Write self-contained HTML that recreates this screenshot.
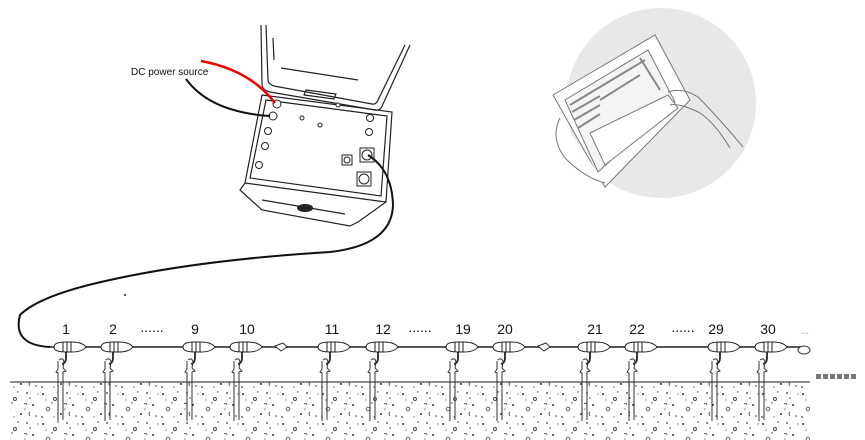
<!DOCTYPE html>
<html><head><meta charset="utf-8"><style>
html,body{margin:0;padding:0;background:#fff;}
svg{display:block;}
text{font-family:"Liberation Sans",sans-serif;}
</style></head><body>
<svg width="865" height="440" viewBox="0 0 865 440" xmlns="http://www.w3.org/2000/svg">
<defs>
<pattern id="soil" width="40" height="30" patternUnits="userSpaceOnUse">
<circle cx="3" cy="4" r="1" fill="#333"/><circle cx="15" cy="9" r="1.5" fill="none" stroke="#444" stroke-width="0.9"/>
<circle cx="27" cy="3" r="0.9" fill="#333"/><circle cx="33" cy="15" r="1" fill="#333"/>
<circle cx="8" cy="19" r="1.8" fill="none" stroke="#555" stroke-width="0.9"/><circle cx="21" cy="24" r="1" fill="#333"/>
<circle cx="36" cy="26" r="0.8" fill="#333"/><circle cx="12" cy="13" r="0.7" fill="#333"/>
<path d="M24 14 q2 -2 3 1" fill="none" stroke="#444" stroke-width="0.9"/><circle cx="2" cy="27" r="0.9" fill="#333"/>
<circle cx="30" cy="8" r="0.7" fill="#333"/><circle cx="18" cy="2" r="0.7" fill="#333"/>
<circle cx="6" cy="10" r="0.6" fill="#333"/><circle cx="25" cy="19" r="0.6" fill="#333"/><circle cx="38" cy="4" r="0.6" fill="#333"/>
<path d="M30 22 q-2 2 0 4" fill="none" stroke="#444" stroke-width="0.9"/><circle cx="14" cy="27" r="0.6" fill="#333"/>
</pattern>
<g id="node">
<path d="M-12 0 q0 -5 12 -5 h6 q10 0 14 5 q-4 5 -14 5 h-6 q-12 0 -12 -5z" fill="#fff" stroke="#222" stroke-width="1"/>
<path d="M-3 -5 v10 M1 -5 v10 M5 -5 v10" stroke="#222" stroke-width="1"/>
<path d="M0 5 v6 q0 5 -4 6" fill="none" stroke="#222" stroke-width="1.8"/>
<path d="M-7 13 q4 -3 5 2 l-1 6 l3 3 l-3 1 v48" fill="none" stroke="#333" stroke-width="1"/>
<path d="M-8 14 v8 l-2 3 l2 1 v48" fill="none" stroke="#333" stroke-width="1"/>
</g>
</defs>
<rect x="10" y="382" width="800" height="58" fill="url(#soil)"/>
<line x1="10" y1="382" x2="810" y2="382" stroke="#444" stroke-width="1.2"/>
<circle cx="661" cy="103" r="95" fill="#e8e8e8"/>
<g stroke="#777" fill="#fff" stroke-width="1">
<path d="M553 95 L655 35 L690 100 L605 187 Z"/>
<path d="M565 100 L648 50 L675 102 L598 172 Z" fill="#f4f4f4"/>
<path d="M590 133 L668 95 L678 108 L605 165 Z" fill="#fff"/>
<path d="M570 105 L645 60 M572 112 L600 96 M574 120 L600 105 M578 128 L600 114 M600 100 L640 75 M640 58 L660 90" fill="none" stroke="#888" stroke-width="2"/>
<path d="M560 118 q-10 20 5 40 q20 20 40 25" fill="#fff"/>
<path d="M668 92 q15 -5 30 5 q20 20 45 50" fill="none"/>
<path d="M670 105 q10 -2 30 8 q15 10 30 35" fill="none"/>
</g>
<g fill="none" stroke="#222" stroke-width="1.2">
<path d="M261 25 L262 84 q0 6 8 8 L375 110 q6 1 8 -6 L410 45"/>
<path d="M266 25 L268 80 q0 4 6 6 L372 104 q4 1 6 -4 L405 45"/>
<path d="M273 38 L274 60 M281 68 L358 80"/>
<path d="M306 90 l30 4 l-2 5 l-30 -4 z"/>
<path d="M262 95 L392 112 L386 202 L245 183 Z"/>
<path d="M266 100 L387 116 L381 196 L250 178 Z"/>
<path d="M245 183 L240 190 L262 210 L350 226 L358 222 L386 202"/>
<path d="M262 200 L345 214"/>
</g>
<ellipse cx="305" cy="208" rx="8" ry="4" fill="#222"/>
<g fill="#fff" stroke="#222" stroke-width="1">
<circle cx="277" cy="104" r="4"/><circle cx="273" cy="116" r="4"/><circle cx="268" cy="131" r="3.5"/>
<circle cx="265" cy="146" r="3.5"/><circle cx="259" cy="165" r="3.5"/><circle cx="370" cy="118" r="3.5"/>
<circle cx="369" cy="132" r="3.5"/><circle cx="302" cy="118" r="2"/><circle cx="320" cy="125" r="2"/><circle cx="338" cy="105" r="2"/>
<rect x="342" y="155" width="10" height="10"/><circle cx="347" cy="160" r="3"/>
<rect x="360" y="148" width="14" height="14"/><circle cx="367" cy="155" r="5"/>
<rect x="357" y="172" width="14" height="14"/><circle cx="364" cy="179" r="5"/>
</g>
<path d="M201 61 Q250 70 275 103" fill="none" stroke="#e00" stroke-width="2.5"/>
<path d="M186 79 Q210 112 270 116" fill="none" stroke="#111" stroke-width="2"/>
<text x="131" y="75" font-size="10" fill="#111">DC power source</text>
<path d="M368 155 Q392 170 393 205 Q392 245 330 252 Q200 260 110 280 Q40 295 20 315 Q12 345 50 347" fill="none" stroke="#111" stroke-width="2"/>
<line x1="50" y1="347" x2="805" y2="347" stroke="#555" stroke-width="2"/>
<g>
<use href="#node" x="66" y="347"/><use href="#node" x="113" y="347"/><use href="#node" x="195" y="347"/><use href="#node" x="242" y="347"/>
<use href="#node" x="330" y="347"/><use href="#node" x="378" y="347"/><use href="#node" x="458" y="347"/><use href="#node" x="505" y="347"/>
<use href="#node" x="590" y="347"/><use href="#node" x="637" y="347"/><use href="#node" x="720" y="347"/><use href="#node" x="767" y="347"/>
</g>
<g fill="#fff" stroke="#333"><path d="M275 346 l8 -3 l4 4 l-6 4 z"/><path d="M538 346 l8 -3 l4 4 l-6 4 z"/><ellipse cx="804" cy="350" rx="6" ry="4"/></g>
<g font-size="14" fill="#111" text-anchor="middle">
<text x="66" y="334">1</text><text x="113" y="334">2</text><text x="152" y="332">......</text>
<text x="195" y="334">9</text><text x="247" y="334">10</text>
<text x="332" y="334">11</text><text x="383" y="334">12</text><text x="420" y="332">......</text>
<text x="463" y="334">19</text><text x="505" y="334">20</text>
<text x="595" y="334">21</text><text x="637" y="334">22</text><text x="683" y="332">......</text>
<text x="716" y="334">29</text><text x="768" y="334">30</text>
<text x="805" y="334" font-size="10" fill="#999">...</text>
</g>
<g fill="#777">
<rect x="816" y="374" width="5" height="5"/><rect x="823" y="374" width="5" height="5"/><rect x="830" y="374" width="5" height="5"/>
<rect x="837" y="374" width="5" height="5"/><rect x="844" y="374" width="5" height="5"/><rect x="851" y="374" width="5" height="5"/>
</g>
<circle cx="125" cy="295" r="1" fill="#222"/>
</svg>
</body></html>
